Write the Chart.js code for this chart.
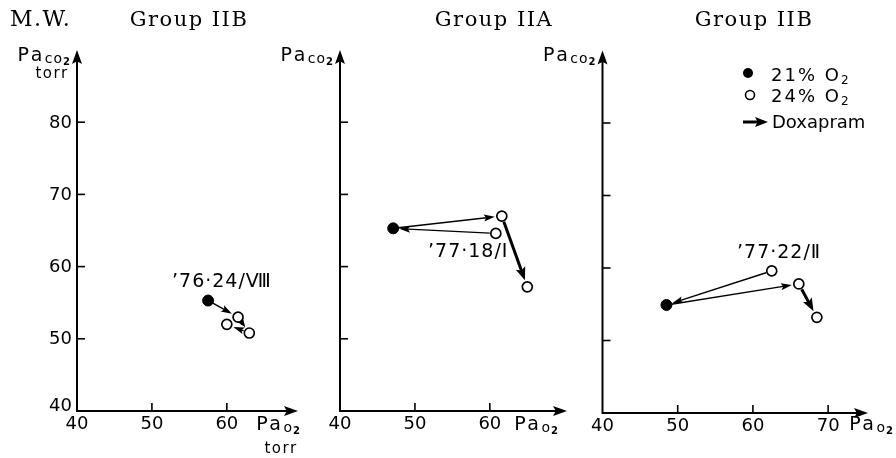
<!DOCTYPE html>
<html>
<head>
<meta charset="utf-8">
<script src="https://cdn.jsdelivr.net/npm/chart.js@4.4.1/dist/chart.umd.min.js"></script>
<style>
  html, body { margin: 0; padding: 0; background: #fff; }
  #wrap { position: relative; width: 896px; height: 458px; }
  #wrap canvas { position: absolute; left: 0; top: 0; }
</style>
</head>
<body>
<div id="wrap">
  <canvas id="panel0" width="896" height="458"></canvas>
  <canvas id="panel1" width="896" height="458"></canvas>
  <canvas id="panel2" width="896" height="458"></canvas>
</div>
<script>
// Panels, left to right
const panelTitles = ['Group IIB', 'Group IIA', 'Group IIB'];
const caseLabels = ['\u201976\u00b724/\u2167', '\u201977\u00b718/I', '\u201977\u00b722/\u2161'];

// Breathing 21% O2 (filled dot)
const pao2Air = [57.5, 47.1, 48.5];
const paco2Air = [55.3, 65.3, 54.9];

// Breathing 24% O2 (open circles): [on 24% O2, second run on 24% O2, after doxapram]
const pao2O2 = [[61.5, 60.0, 63.0], [61.6, 60.8, 65.0], [66.1, 62.5, 68.5]];
const paco2O2 = [[53.0, 52.0, 50.8], [67.0, 64.6, 57.2], [57.8, 59.6, 53.2]];

// Axis ticks
const xTicks = [[40, 50, 60], [40, 50, 60], [40, 50, 60, 70]];
const yTicks = [40, 50, 60, 70, 80];
const yTickLabels = [true, false, false];

// Axis extents (arrow tips)
const xMax = [69.5, 70.3, 75.3];
const yMax = 90;

const pads = [
  { left: 77, right: 598, top: 50, bottom: 47 },
  { left: 340, right: 329, top: 50, bottom: 47 },
  { left: 602.5, right: 28, top: 50.5, bottom: 45 }
];

const SANS = '"DejaVu Sans", sans-serif';
const SERIF = '"DejaVu Serif", serif';

// text made of pieces with their own size and baseline shift
function drawParts(ctx, parts, x, y, align) {
  let w = 0;
  parts.forEach(p => {
    ctx.font = (p.bold ? 'bold ' : '') + p.size + 'px ' + SANS;
    ctx.letterSpacing = (p.ls || 0) + 'px';
    p.w = ctx.measureText(p.t).width;
    w += p.w;
  });
  let cx = align === 'right' ? x - w : (align === 'center' ? x - w / 2 : x);
  ctx.textAlign = 'left';
  ctx.textBaseline = 'alphabetic';
  parts.forEach(p => {
    ctx.font = (p.bold ? 'bold ' : '') + p.size + 'px ' + SANS;
    ctx.letterSpacing = (p.ls || 0) + 'px';
    ctx.fillText(p.t, cx, y + (p.dy || 0));
    cx += p.w;
  });
  ctx.letterSpacing = '0px';
}

function head(ctx, x, y, ux, uy, len, half) {
  ctx.beginPath();
  ctx.moveTo(x, y);
  ctx.lineTo(x - ux * len - uy * half, y - uy * len + ux * half);
  ctx.lineTo(x - ux * len * 0.8, y - uy * len * 0.8);
  ctx.lineTo(x - ux * len + uy * half, y - uy * len - ux * half);
  ctx.closePath();
  ctx.fill();
}

function arrow(ctx, x1, y1, x2, y2, r1, r2, thick) {
  const dx = x2 - x1, dy = y2 - y1;
  const d = Math.hypot(dx, dy);
  const ux = dx / d, uy = dy / d;
  const sx = x1 + ux * r1, sy = y1 + uy * r1;
  const ex = x2 - ux * r2, ey = y2 - uy * r2;
  ctx.strokeStyle = '#000';
  ctx.fillStyle = '#000';
  ctx.lineWidth = thick ? 3 : 1.4;
  ctx.beginPath();
  ctx.moveTo(sx, sy);
  ctx.lineTo(ex - ux * 4, ey - uy * 4);
  ctx.stroke();
  if (thick) head(ctx, ex, ey, ux, uy, 13, 5);
  else head(ctx, ex, ey, ux, uy, 11, 3.5);
}

const panelPlugin = {
  id: 'panelPlugin',
  beforeDatasetsDraw(chart) {
    const i = chart.options.panelIndex;
    const { ctx, scales: { x, y } } = chart;
    ctx.save();
    ctx.strokeStyle = '#000';
    ctx.fillStyle = '#000';
    ctx.lineWidth = 2;
    const x0 = x.getPixelForValue(40), y0 = y.getPixelForValue(40);
    const xe = x.getPixelForValue(xMax[i]), ye = y.getPixelForValue(yMax);
    // axes with arrow tips
    ctx.beginPath();
    ctx.moveTo(x0, ye + 6);
    ctx.lineTo(x0, y0);
    ctx.lineTo(xe - 6, y0);
    ctx.stroke();
    head(ctx, x0, ye, 0, -1, 14, 5);
    head(ctx, xe, y0, 1, 0, 14, 5);
    // inward tick marks
    ctx.lineWidth = 1.6;
    xTicks[i].slice(1).forEach(v => {
      const px = x.getPixelForValue(v);
      ctx.beginPath(); ctx.moveTo(px, y0); ctx.lineTo(px, y0 - 8); ctx.stroke();
    });
    yTicks.slice(1).forEach(v => {
      const py = y.getPixelForValue(v);
      ctx.beginPath(); ctx.moveTo(x0, py); ctx.lineTo(x0 + 8, py); ctx.stroke();
    });

    // arrows between readings
    const pa = { x: x.getPixelForValue(pao2Air[i]), y: y.getPixelForValue(paco2Air[i]) };
    const po = pao2O2[i].map((v, k) => ({ x: x.getPixelForValue(v), y: y.getPixelForValue(paco2O2[i][k]) }));
    arrow(ctx, pa.x, pa.y, po[0].x, po[0].y, 5, 7, false);
    if (i === 0) arrow(ctx, po[2].x, po[2].y, po[1].x, po[1].y, 6, 7, false);
    else arrow(ctx, po[1].x, po[1].y, pa.x, pa.y, 6, 6, false);
    arrow(ctx, po[0].x, po[0].y, po[2].x, po[2].y, 6, 7, true);
    ctx.restore();
  },
  afterDraw(chart) {
    const i = chart.options.panelIndex;
    const { ctx, scales: { x, y } } = chart;
    const x0 = x.getPixelForValue(40), y0 = y.getPixelForValue(40);
    ctx.save();
    ctx.fillStyle = '#000';

    // tick labels
    ctx.font = '18px ' + SANS;
    ctx.textBaseline = 'middle';
    ctx.textAlign = 'center';
    xTicks[i].forEach(v => ctx.fillText(String(v), x.getPixelForValue(v), y0 + 13));
    if (yTickLabels[i]) {
      ctx.textAlign = 'right';
      yTicks.forEach(v => ctx.fillText(String(v), x0 - 5, y.getPixelForValue(v) + (v === 40 ? -5 : 1)));
    }

    // axis names
    const paco2 = [{ t: 'Pa', size: 19, ls: 2.5 }, { t: 'co', size: 14, dy: 2, ls: 1 }, { t: '2', size: 10, dy: 4, bold: true }];
    const pao2 = [{ t: 'Pa', size: 19, ls: 2.5 }, { t: 'o', size: 14, dy: 2, ls: 1 }, { t: '2', size: 10, dy: 4, bold: true }];
    drawParts(ctx, paco2, x0 - 7, 61, 'right');
    const xLabelRight = [300, 558, 893];
    drawParts(ctx, pao2, xLabelRight[i], 430, 'right');
    if (i === 0) {
      ctx.font = '15px ' + SANS;
      ctx.letterSpacing = '1.5px';
      ctx.textAlign = 'center';
      ctx.textBaseline = 'alphabetic';
      ctx.fillText('torr', x0 - 25, 78);
      ctx.fillText('torr', 281, 453);
      ctx.letterSpacing = '0px';
    }

    // titles
    ctx.font = '21px ' + SERIF;
    ctx.letterSpacing = '1.5px';
    ctx.textBaseline = 'alphabetic';
    ctx.textAlign = 'center';
    const tc = [189, 494, 754];
    ctx.fillText(panelTitles[i], tc[i], 26);
    if (i === 0) {
      ctx.textAlign = 'left';
      ctx.font = '22px ' + SERIF;
      ctx.fillText('M.W.', 10, 26);
    }
    ctx.letterSpacing = '0px';

    // case label
    ctx.font = '19px ' + SANS;
    ctx.letterSpacing = '1px';
    ctx.textAlign = 'left';
    ctx.textBaseline = 'middle';
    const lp = [[172, 282], [428, 252], [737, 253]];
    ctx.fillText(caseLabels[i], lp[i][0], lp[i][1]);
    ctx.letterSpacing = '0px';

    // key
    if (i === 2) {
      ctx.beginPath(); ctx.arc(748, 73, 5, 0, Math.PI * 2); ctx.fill();
      ctx.beginPath(); ctx.arc(750, 95, 4.5, 0, Math.PI * 2);
      ctx.lineWidth = 1.6; ctx.strokeStyle = '#000'; ctx.stroke();
      const o2a = [{ t: '21% O', size: 18, ls: 2 }, { t: '2', size: 12, dy: 3 }];
      const o2b = [{ t: '24% O', size: 18, ls: 2 }, { t: '2', size: 12, dy: 3 }];
      drawParts(ctx, o2a, 771, 81, 'left');
      drawParts(ctx, o2b, 771, 102, 'left');
      arrow(ctx, 743, 122, 768, 122, 0, 0, true);
      ctx.font = '18px ' + SANS;
      ctx.textBaseline = 'middle';
      ctx.fillText('Doxapram', 772, 123);
    }
    ctx.restore();
  }
};

function makePanel(i) {
  const canvas = document.getElementById('panel' + i);
  return new Chart(canvas, {
    type: 'scatter',
    data: {
      datasets: [
        {
          label: '24% O2',
          data: pao2O2[i].map((v, k) => ({ x: v, y: paco2O2[i][k] })),
          pointRadius: 5,
          pointBackgroundColor: '#fff',
          pointBorderColor: '#000',
          pointBorderWidth: 1.7
        },
        {
          label: '21% O2',
          data: [{ x: pao2Air[i], y: paco2Air[i] }],
          pointRadius: 5.5,
          pointBackgroundColor: '#000',
          pointBorderColor: '#000',
          pointBorderWidth: 1
        }
      ]
    },
    options: {
      panelIndex: i,
      responsive: false,
      animation: false,
      events: [],
      layout: { padding: pads[i] },
      plugins: {
        legend: { display: false },
        tooltip: { enabled: false }
      },
      scales: {
        x: { type: 'linear', display: false, min: 40, max: xMax[i] },
        y: { type: 'linear', display: false, min: 40, max: yMax }
      }
    },
    plugins: [panelPlugin]
  });
}

const charts = [0, 1, 2].map(makePanel);
</script>
</body>
</html>
